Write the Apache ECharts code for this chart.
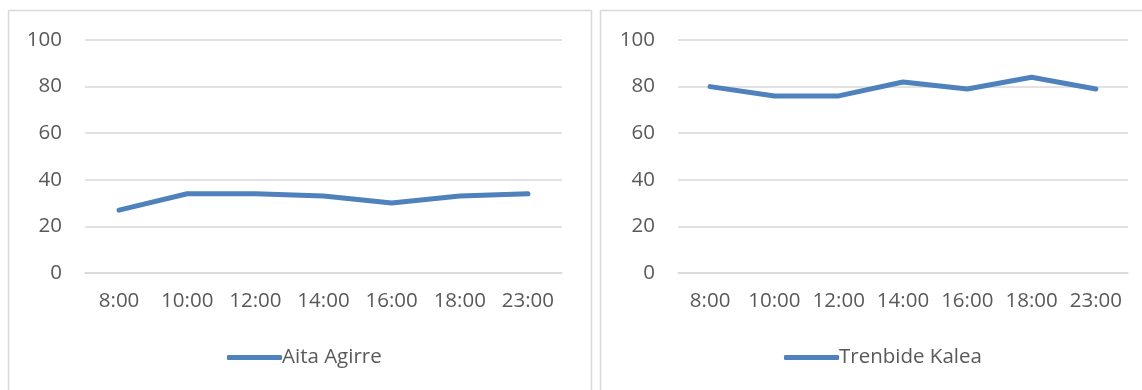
<!DOCTYPE html>
<html>
<head>
<meta charset="utf-8">
<script src="https://cdn.jsdelivr.net/npm/echarts@6/dist/echarts.min.js"></script>
<style>
html,body{margin:0;padding:0;background:#fff;}
#c{width:1142px;height:390px;}
</style>
</head>
<body>
<div id="c"></div>
<script>
var categories = ['8:00','10:00','12:00','14:00','16:00','18:00','23:00'];
var seriesNameA = 'Aita Agirre';
var valuesA = [27, 34, 34, 33, 30, 33, 34];
var seriesNameB = 'Trenbide Kalea';
var valuesB = [80, 76, 76, 82, 79, 84, 79];
var yMin = 0, yMax = 100, yStep = 20;

var FONT = '"Open Sans", sans-serif';
var TXT = '#595959';
var LINE = '#4f81bd';
var GRIDC = '#d9d9d9';

function xAxis(i){
  return {
    type:'category', gridIndex:i, data:categories, boundaryGap:true,
    axisLine:{show:true, lineStyle:{color:GRIDC, width:1.5}},
    axisTick:{show:false},
    axisLabel:{color:TXT, fontFamily:FONT, fontSize:20.5, margin:18, interval:0}
  };
}
function yAxis(i){
  return {
    type:'value', gridIndex:i, min:yMin, max:yMax, interval:yStep,
    axisLine:{show:false}, axisTick:{show:false},
    splitLine:{lineStyle:{color:GRIDC, width:1.5}},
    axisLabel:{color:TXT, fontFamily:FONT, fontSize:20.5, margin:23}
  };
}
function series(name, data, i){
  return {
    name:name, type:'line', xAxisIndex:i, yAxisIndex:i, data:data,
    symbol:'none', smooth:false,
    lineStyle:{color:LINE, width:5, cap:'round', join:'round'},
    itemStyle:{color:LINE}
  };
}
function legend(name, left){
  return {
    data:[name], left:left, top:342, icon:'roundRect',
    itemWidth:55, itemHeight:5, itemGap:0,
    textStyle:{color:TXT, fontFamily:FONT, fontSize:20.5, padding:[0,0,0,-5]}
  };
}

var chart = echarts.init(document.getElementById('c'), null, {renderer:'canvas'});
chart.setOption({
  backgroundColor:'#fff',
  animation:false,
  graphic:[
    {type:'rect', shape:{x:8.5, y:10.5, width:583, height:400}, style:{fill:'none', stroke:GRIDC, lineWidth:1.5}},
    {type:'rect', shape:{x:600.5, y:10.5, width:600, height:400}, style:{fill:'none', stroke:GRIDC, lineWidth:1.5}}
  ],
  grid:[
    {left:85, top:40, width:477, height:233},
    {left:678, top:40, width:450, height:233}
  ],
  xAxis:[xAxis(0), xAxis(1)],
  yAxis:[yAxis(0), yAxis(1)],
  legend:[legend(seriesNameA, 222), legend(seriesNameB, 779)],
  series:[series(seriesNameA, valuesA, 0), series(seriesNameB, valuesB, 1)]
});
</script>
</body>
</html>
